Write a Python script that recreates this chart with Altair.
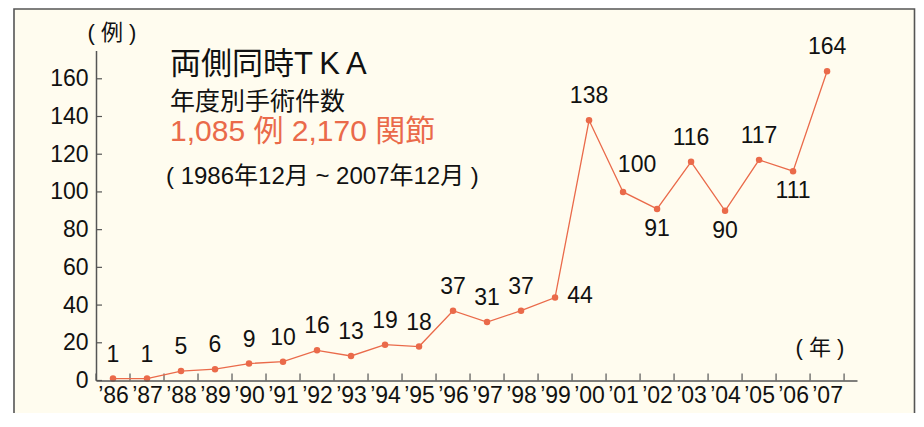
import altair as alt
import pandas as pd

# ---- data ----
years = list(range(1986, 2008))
cases = [1, 1, 5, 6, 9, 10, 16, 13, 19, 18, 37, 31, 37, 44,
         138, 100, 91, 116, 90, 117, 111, 164]
below_years = [2002, 2004, 2006]
right_years = [1999]
upright_years = [2001]
y_ticks = [0, 20, 40, 60, 80, 100, 120, 140, 160]
x_bounds = [y - 0.5 for y in years] + [years[-1] + 0.5]

title_main = "両側同時T\u2009K\u2009A"
title_sub = "年度別手術件数"
title_total = "1,085 例 2,170 関節"
title_period = "( 1986年12月 ~ 2007年12月 )"
y_unit = "(  例  )"
x_unit = "(  年  )"

def side(y):
    if y in below_years:
        return "below"
    if y in right_years:
        return "right"
    if y in upright_years:
        return "upright"
    return "above"

df = pd.DataFrame({"year": years, "cases": cases,
                   "side": [side(y) for y in years]})

ORANGE = "#EA6A4A"
AX = "#555555"
BG = "#FFFCEF"
FONT = "Liberation Sans, Noto Sans CJK JP, sans-serif"
W, H = 761, 330

xscale = alt.Scale(domain=[1985.5, 2007.88], nice=False, zero=False)
yscale = alt.Scale(domain=[0, 175], nice=False)
xaxis = alt.Axis(values=years,
                 labelExpr="'\u2019' + substring(toString(datum.value), 2)",
                 ticks=False, tickSize=0, labelPadding=4, labelFontSize=23,
                 labelColor="#111111", title=None, grid=False,
                 labelFlush=False, labelOverlap=False,
                 domainColor=AX, domainWidth=1.5, zindex=2)
yaxis = alt.Axis(values=y_ticks, ticks=False, tickSize=0, labelPadding=8,
                 labelFontSize=23, labelColor="#111111", title=None,
                 grid=False, domainColor=AX, domainWidth=1.5, zindex=2)

X = alt.X("year:Q", scale=xscale, axis=xaxis)
Y = alt.Y("cases:Q", scale=yscale, axis=yaxis)

frame = alt.Chart(pd.DataFrame({"a": [0]})).mark_rect(
    fill=BG, stroke=AX, strokeWidth=1.6).encode(
    x=alt.value(-82), x2=alt.value(818.5),
    y=alt.value(-41.5), y2=alt.value(520))

yt = alt.Chart(pd.DataFrame({"cases": y_ticks})).mark_rule(
    color=AX, strokeWidth=1.2).encode(
    y=Y, x=alt.value(0), x2=alt.value(6))
xt = alt.Chart(pd.DataFrame({"year": x_bounds})).mark_rule(
    color=AX, strokeWidth=1.2).encode(
    x=X, y=alt.value(H), y2=alt.value(H - 7))

base = alt.Chart(df)
line = base.mark_line(color=ORANGE, strokeWidth=1.3).encode(x=X, y=Y)
pts = base.mark_circle(color=ORANGE, size=42, opacity=1).encode(x=X, y=Y)

def lab(sel, dx, dy, align="center"):
    return base.transform_filter(alt.datum.side == sel).mark_text(
        fontSize=23, color="#111111", dx=dx, dy=dy,
        align=align, baseline="middle").encode(x=X, y=Y, text="cases:Q")

labels = [lab("above", 0, -24), lab("below", 0, 20),
          lab("right", 25, -2), lab("upright", 14, -27)]

def note(txt, x, y, size, color="#111111", align="left"):
    return alt.Chart(pd.DataFrame({"t": [txt]})).mark_text(
        align=align, baseline="middle", fontSize=size, color=color).encode(
        x=alt.value(x), y=alt.value(y), text="t:N")

notes = [
    note(title_main, 74, 14, 31),
    note(title_sub, 74, 51, 25),
    note(title_total, 74, 81, 30, ORANGE),
    note(title_period, 70, 126, 24),
    note(y_unit, 16, -17.5, 22, align="center"),
    note(x_unit, 724, 297.5, 22, align="center"),
]

chart = alt.layer(frame, yt, xt, line, pts, *labels, *notes).properties(
    width=W, height=H,
    autosize=alt.AutoSizeParams(type="none"),
    padding={"left": 88, "top": 42.5, "right": 59, "bottom": 32.5},
    background="white",
).configure_view(stroke=None).configure_axis(
    labelFont=FONT).configure_text(font=FONT)

chart.save("out.html", embed_options={"renderer": "svg", "actions": False})
